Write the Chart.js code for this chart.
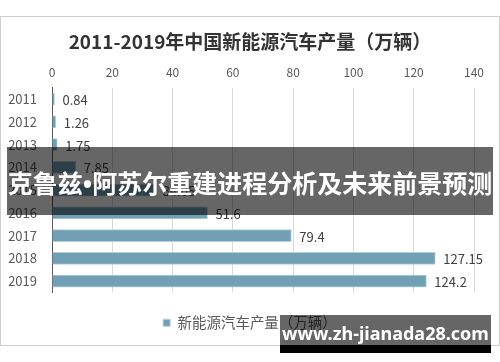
<!DOCTYPE html>
<html>
<head>
<meta charset="utf-8">
<script src="https://cdn.jsdelivr.net/npm/chart.js@4.4.1/dist/chart.umd.min.js"></script>
<style>
  html, body { margin: 0; padding: 0; background: #fff; }
  #wrap { position: relative; width: 500px; height: 362px; overflow: hidden; }
  #frame { position: absolute; left: 0; top: 16px; width: 498px; height: 328px; border: 1px solid #cfcfcf; }
  #box { position: absolute; left: 0; top: 0; width: 500px; height: 362px; }
  #banner { position: absolute; left: 7px; top: 147px; width: 486px; height: 68px;
    background: rgba(0,0,0,0.6); color: #fff; font: bold 25px "Noto Sans CJK SC", sans-serif;
    line-height: 70px; text-align: center; white-space: nowrap; overflow: hidden; }
  #banner span { font-family: "Noto Sans", sans-serif; }
  #mark { position: absolute; left: 280px; top: 315px; width: 211px; height: 30px;
    background: rgba(0,0,0,0.6); color: #fff; font: bold 18px "Noto Sans", sans-serif;
    line-height: 36px; text-align: center; white-space: nowrap; }
  #markbar { position: absolute; left: 280px; top: 345px; width: 211px; height: 8px; background: #000; }
</style>
</head>
<body>
<div id="wrap">
  <div id="frame"></div>
  <div id="box"><canvas id="nevChart"></canvas></div>
  <div id="banner">克鲁兹<span>•</span>阿苏尔重建进程分析及未来前景预测</div>
  <div id="mark">www.zh-jianada28.com</div>
  <div id="markbar"></div>
</div>
<script>
// 2011-2019 China new energy vehicle output (10k units)
const years = ['2011', '2012', '2013', '2014', '2015', '2016', '2017', '2018', '2019'];
const output = [0.84, 1.26, 1.75, 7.85, 34.05, 51.6, 79.4, 127.15, 124.2];
const xTicks = [0, 20, 40, 60, 80, 100, 120, 140];

Chart.defaults.font.family = '"Noto Sans CJK SC", "Noto Sans", sans-serif';

// value labels at the end of each bar
const barLabels = {
    id: 'barLabels',
    afterDatasetsDraw(chart) {
        const ctx = chart.ctx;
        const meta = chart.getDatasetMeta(0);
        ctx.save();
        ctx.font = '13px "Noto Sans CJK SC", sans-serif';
        ctx.fillStyle = '#404040';
        ctx.textAlign = 'left';
        ctx.textBaseline = 'middle';
        meta.data.forEach(function(bar, i) {
            ctx.fillText(String(output[i]), bar.x + 8, bar.y + 1);
        });
        ctx.restore();
    }
};

new Chart(document.getElementById('nevChart'), {
    type: 'bar',
    data: {
        labels: years,
        datasets: [{
            label: '新能源汽车产量（万辆）',
            data: output,
            backgroundColor: '#71a0b4',
            borderColor: '#b3cfdb',
            borderWidth: 1,
            barThickness: 12,
            yAxisID: 'y'
        }]
    },
    options: {
        indexAxis: 'y',
        responsive: true,
        maintainAspectRatio: false,
        animation: false,
        layout: { padding: { left: 0, right: 0, top: 0, bottom: 22 } },
        plugins: {
            title: {
                display: true,
                text: '2011-2019年中国新能源汽车产量（万辆）',
                color: '#333333',
                font: { size: 19, weight: 'bold' },
                padding: { top: 30.6, bottom: 0 }
            },
            legend: {
                position: 'bottom',
                labels: {
                    boxWidth: 7,
                    boxHeight: 7,
                    padding: 23,
                    color: '#595959',
                    font: { size: 14.5 }
                }
            },
            tooltip: { enabled: false }
        },
        scales: {
            x: {
                position: 'top',
                min: 0,
                max: 140,
                afterBuildTicks: function(scale) {
                    scale.ticks = xTicks.map(function(v) { return { value: v }; });
                },
                afterFit: function(scale) { scale.height = 34.4; },
                ticks: { color: '#595959', font: { size: 12 }, padding: 8 },
                grid: { color: '#d9d9d9', drawTicks: false },
                border: { display: false }
            },
            y: {
                afterFit: function(scale) { scale.width = 52; },
                ticks: { color: '#595959', font: { size: 13 }, padding: 15 },
                grid: { display: false, drawTicks: false },
                border: { display: true, color: '#595959', width: 1 }
            },
            // empty right margin so the title and legend centre on the page
            y2: {
                type: 'category',
                axis: 'y',
                position: 'right',
                afterFit: function(scale) { scale.width = 26; },
                ticks: { display: false },
                grid: { display: false, drawTicks: false },
                border: { display: false }
            }
        }
    },
    plugins: [barLabels]
});
</script>
</body>
</html>
